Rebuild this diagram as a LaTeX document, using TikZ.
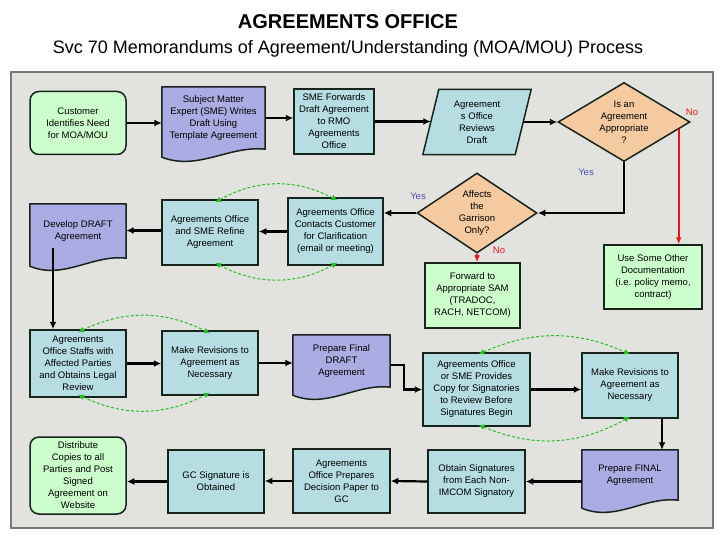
\documentclass[tikz,border=0pt]{standalone}
\usepackage{fontspec}
\setmainfont{Liberation Sans}
\usetikzlibrary{arrows.meta,backgrounds,calc,shapes.geometric}
\definecolor{gfill}{RGB}{204,255,204}
\definecolor{pfill}{RGB}{172,172,228}
\definecolor{tfill}{RGB}{182,222,226}
\definecolor{ofill}{RGB}{246,202,160}
\definecolor{boxline}{RGB}{25,35,30}
\definecolor{panel}{RGB}{226,226,222}
\definecolor{panelline}{RGB}{120,120,120}
\definecolor{dgreen}{RGB}{40,190,40}
\definecolor{yesblue}{RGB}{80,80,175}
\definecolor{nored}{RGB}{235,20,20}
\newcommand\nodefnt{\fontsize{9.5}{12}\selectfont}
\newcommand\docwave[2]{%
  \begin{scope}[on background layer]
    \path[draw=boxline,line width=1.5pt,fill=#2,line join=round]
      (#1.north west) -- (#1.north east) -- (#1.south east)
      .. controls ($(#1.south east)!0.35!(#1.south west)+(0,-4)$) and ($(#1.south east)!0.65!(#1.south west)+(0,22)$) ..
      ($(#1.south west)+(0,8)$) -- cycle;
  \end{scope}}
\begin{document}
\begin{tikzpicture}[x=1pt,y=-1pt,
  box/.style={draw=boxline,line width=1.5pt,fill=tfill,align=center,font=\nodefnt,inner sep=1pt},
  gbox/.style={box,fill=gfill},
  rbox/.style={box,fill=gfill,rounded corners=9pt},
  docnode/.style={align=center,font=\nodefnt,inner sep=1pt},
  dia/.style={diamond,draw=boxline,line width=1.5pt,fill=ofill,inner sep=0pt},
  lbl/.style={align=center,font=\nodefnt},
  arr/.style={draw=black,line width=2.2pt,-{Latex[length=7.5pt,width=7pt]}},
  redarr/.style={draw=nored,line width=1.8pt,-{Latex[length=7pt,width=6pt]}},
  dbl/.style={draw=dgreen,line width=1pt,dash pattern=on 3pt off 2pt,{Latex[length=6pt,width=6pt]}-{Latex[length=6pt,width=6pt]}},
  yes/.style={font=\nodefnt,text=yesblue},
  no/.style={font=\nodefnt,text=nored}]
\useasboundingbox (0,0) rectangle (720,540);
\begin{scope}[on background layer]
  \draw[fill=panel,draw=panelline,line width=1.3pt] (11,72) rectangle (713,528);
\end{scope}
\node[font=\bfseries\fontsize{20}{24}\selectfont] (title) at (348,22) {AGREEMENTS OFFICE};
\node[font=\fontsize{18}{21}\selectfont] (sub) at (348,49) {Svc 70 Memorandums of Agreement/Understanding (MOA/MOU) Process};

% row 1
\node[rbox,minimum width=96pt,minimum height=63pt] (n1) at (78,123) {Customer\\Identifies Need\\for MOA/MOU};
\node[docnode,minimum width=103pt,minimum height=62pt] (n2) at (213.5,118) {Subject Matter\\Expert (SME) Writes\\Draft Using\\Template Agreement};
\docwave{n2}{pfill}
\node[box,minimum width=80pt,minimum height=65pt] (n3) at (334,121.5) {SME Forwards\\Draft Agreement\\to RMO\\Agreements\\Office};
\node[docnode,minimum width=92pt,minimum height=65pt] (n4) at (477,122) {Agreement\\s Office\\Reviews\\Draft};
\begin{scope}[on background layer]
  \path[draw=boxline,line width=1.5pt,fill=tfill] ([xshift=8pt]n4.north west) -- ([xshift=8pt]n4.north east) -- ([xshift=-8pt]n4.south east) -- ([xshift=-8pt]n4.south west) -- cycle;
\end{scope}
\node[dia,minimum width=132pt,minimum height=79pt,label={[lbl]center:{Is an\\Agreement\\Appropriate\\?}}] (n5) at (624,122) {};

% row 2
\node[dia,minimum width=120pt,minimum height=80pt,label={[lbl]center:{Affects\\the\\Garrison\\Only?}}] (n6) at (477,213) {};
\node[box,minimum width=95pt,minimum height=67pt] (n7) at (335.5,231.5) {Agreements Office\\Contacts Customer\\for Clarification\\(email or meeting)};
\node[box,minimum width=96pt,minimum height=65pt] (n8) at (210,232.5) {Agreements Office\\and SME Refine\\Agreement};
\node[docnode,minimum width=96pt,minimum height=54pt] (n9) at (78,231) {Develop DRAFT\\Agreement};
\docwave{n9}{pfill}
\node[gbox,minimum width=95pt,minimum height=65pt] (n10) at (472.5,295.5) {Forward to\\Appropriate SAM\\(TRADOC,\\RACH, NETCOM)};
\node[gbox,minimum width=98pt,minimum height=64pt] (n11) at (653,277) {Use Some Other\\Documentation\\(i.e. policy memo,\\contract)};

% row 3
\node[box,minimum width=96pt,minimum height=67pt] (n12) at (78,363.5) {Agreements\\Office Staffs with\\Affected Parties\\and Obtains Legal\\Review};
\node[box,minimum width=96pt,minimum height=64pt] (n13) at (210,363) {Make Revisions to\\Agreement as\\Necessary};
\node[docnode,minimum width=97pt,minimum height=52pt] (n14) at (341.5,361) {Prepare Final\\DRAFT\\Agreement};
\docwave{n14}{pfill}
\node[box,minimum width=107pt,minimum height=73pt] (n15) at (476.5,389.5) {Agreements Office\\or SME Provides\\Copy for Signatories\\to Review Before\\Signatures Begin};
\node[box,minimum width=96pt,minimum height=65pt] (n16) at (630,385.5) {Make Revisions to\\Agreement as\\Necessary};

% row 4
\node[docnode,minimum width=96pt,minimum height=50pt] (n17) at (630,475) {Prepare FINAL\\Agreement};
\docwave{n17}{pfill}
\node[box,minimum width=97pt,minimum height=63pt] (n18) at (476.5,481.5) {Obtain Signatures\\from Each Non-\\IMCOM Signatory};
\node[box,minimum width=97pt,minimum height=64pt] (n19) at (341.5,481) {Agreements\\Office Prepares\\Decision Paper to\\GC};
\node[box,minimum width=96pt,minimum height=63pt] (n20) at (216,481.5) {GC Signature is\\Obtained};
\node[rbox,minimum width=96pt,minimum height=77pt] (n21) at (78,475.5) {Distribute\\Copies to all\\Parties and Post\\Signed\\Agreement on\\Website};

% connectors
\draw[arr] (n1.east) -- (n1.east -| n2.west);
\draw[arr] (n2.east) -- (n2.east -| n3.west);
\draw[arr] (n3.east) -- (n3.east -| n4.west);
\draw[arr] (n4.east) -- (n4.east -| n5.west);
\draw[arr] (n5.south) |- (n6.east);
\coordinate (rs) at ($(n5.east)!0.18!(n5.south)$);
\draw[redarr] (rs) -- (rs |- n11.north);
\draw[arr] (n6.west) -- (n6.west -| n7.east);
\draw[redarr] (n6.south) -- (n6.south |- n10.north);
\draw[arr] (n7.west) -- (n7.west -| n8.east);
\draw[arr] ([yshift=2pt]n8.west) -- ([yshift=2pt]n8.west -| n9.east);
\draw[arr] ([xshift=-25pt,yshift=10pt]n9.south) -- ([xshift=-25pt]n12.north);
\draw[arr] (n12.east) -- (n12.east -| n13.west);
\draw[arr] (n13.east) -- (n13.east -| n14.west);
\draw[arr] ([yshift=-4pt]n14.east) -- ++(14,0) |- (n15.west);
\draw[arr] (n15.east) -- (n15.east -| n16.west);
\draw[arr] ([xshift=32pt]n16.south) -- ([xshift=32pt]n17.north);
\draw[arr] (n18.east -| n17.west) -- (n18.east);
\draw[arr] (n18.west) -- (n19.east);
\draw[arr] (n19.west) -- (n19.west -| n20.east);
\draw[arr] (n20.west) -- (n20.west -| n21.east);

% dashed feedback arcs
\draw[dbl] ([xshift=5pt,yshift=-3pt]n8.north) to[bend left=28] ([xshift=2pt,yshift=-3pt]n7.north);
\draw[dbl] ([xshift=5pt,yshift=3pt]n8.south) to[bend right=28] ([xshift=2pt,yshift=3pt]n7.south);
\draw[dbl] ([yshift=-3pt]n12.north) to[bend left=26] ([yshift=-3pt]n13.north);
\draw[dbl] ([yshift=3pt]n12.south) to[bend right=26] ([yshift=3pt]n13.south);
\draw[dbl] ([xshift=2pt,yshift=-2pt]n15.north) to[bend left=24] ([yshift=-2pt]n16.north);
\draw[dbl] ([xshift=2pt,yshift=2pt]n15.south) to[bend right=26] ([yshift=2pt]n16.south);

% labels
\node[no] (no1) at (692,112) {No};
\node[yes] (yes1) at (586,172) {Yes};
\node[yes] (yes2) at (418,196) {Yes};
\node[no] (no2) at (499,250) {No};
\end{tikzpicture}
\end{document}
